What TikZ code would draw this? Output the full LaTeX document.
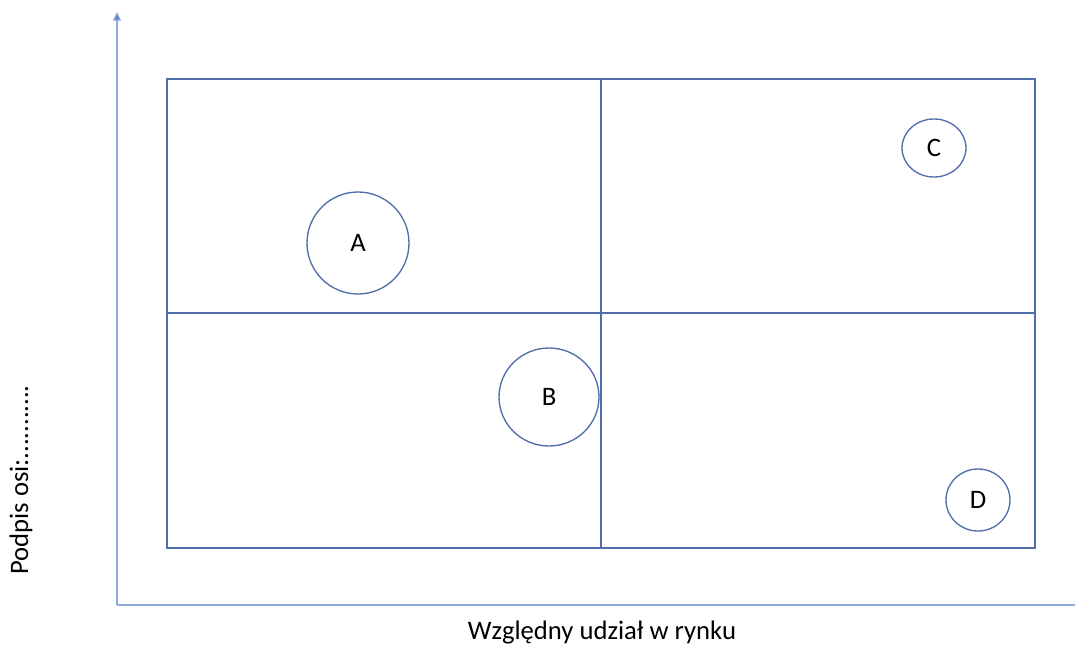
\documentclass[tikz,border=0pt]{standalone}
\usepackage{fontspec}
\setmainfont{Carlito}
\usepackage{xcolor}
\usepackage{tikz}
\usetikzlibrary{arrows.meta, shapes.geometric, positioning}

\definecolor{axisblue}{RGB}{143,170,220}
\definecolor{tipblue}{RGB}{90,130,210}
\definecolor{gridblue}{RGB}{80,110,170}

\begin{document}
\begin{tikzpicture}[x=0.75pt, y=-0.75pt,
    axisline/.style={draw=axisblue, line width=0.9pt},
    gridline/.style={draw=gridblue, line width=1.1pt},
    bubble/.style={ellipse, draw=gridblue, line width=1.0pt, inner sep=0pt},
    lbl/.style={font=\fontsize{20}{24}\selectfont}]

    % =================================================================
    % 1. RAMKA OBRAZKA I PUNKTY GLOWNE
    % =================================================================
    \useasboundingbox (0,0) rectangle (1075,647);

    \coordinate (O) at (117,605);
    \coordinate (Ytop) at (117,12);
    \coordinate (Xend) at (1075,605);

    \coordinate (LB) at (167,548);
    \coordinate (RB) at (1035,548);
    \coordinate (RT) at (1035,79);
    \coordinate (LT) at (167,79);

    \coordinate (MT) at (601,79);
    \coordinate (MB) at (601,548);
    \coordinate (ML) at (167,313);
    \coordinate (MR) at (1035,313);

    % =================================================================
    % 2. OSIE
    % =================================================================
    \draw[axisline] (O) -- (Xend);
    \draw[axisline, -{Triangle[length=6.5pt, width=6pt, fill=tipblue]}] (O) -- (Ytop);

    % =================================================================
    % 3. MACIERZ (4 POLA)
    % =================================================================
    \draw[gridline] (LB) -- (RB) -- (RT) -- (LT) -- cycle;
    \draw[gridline] (MT) -- (MB);
    \draw[gridline] (ML) -- (MR);

    % =================================================================
    % 4. KOLA A, B, C, D
    % =================================================================
    \node[bubble, lbl, minimum width=76.5pt, minimum height=76.5pt] (A) at (358,243) {A};
    \node[bubble, lbl, minimum width=75pt, minimum height=73.5pt] (B) at (549,397) {B};
    \node[bubble, lbl, minimum width=48pt, minimum height=43.5pt] (C) at (934,148) {C};
    \node[bubble, lbl, minimum width=48pt, minimum height=46.5pt] (D) at (978,500) {D};

    % =================================================================
    % 5. PODPISY OSI
    % =================================================================
    \node[lbl] (xlab) at (602,633) {Względny udział w rynku};
    \node[lbl, rotate=90] (ylab) at (21,480) {Podpis osi:...........};

\end{tikzpicture}
\end{document}
